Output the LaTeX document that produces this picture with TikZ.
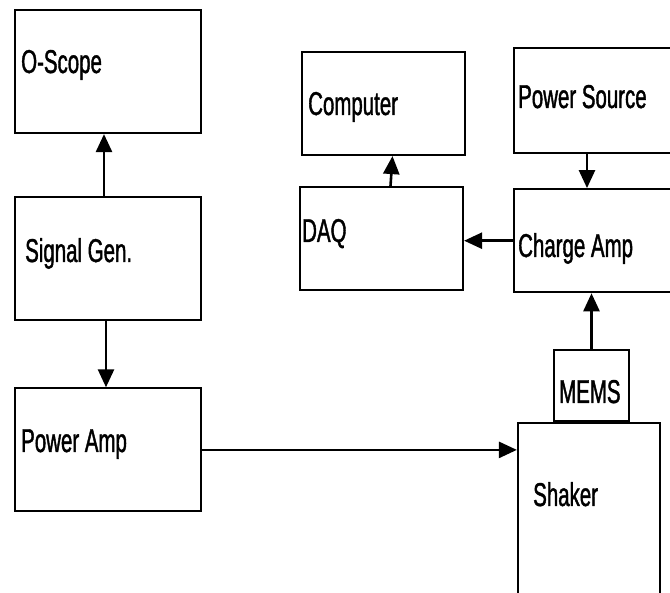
\documentclass[tikz,border=0pt]{standalone}
\usepackage{fontspec}
\setmainfont{Liberation Sans}[FakeStretch=0.62,FakeBold=1.2]
\usetikzlibrary{arrows.meta,positioning}
\tikzset{
  every node/.style={font=\fontsize{33}{36}\selectfont},
  box/.style={draw=black, line width=2.2pt, minimum width=186pt, minimum height=123pt, inner sep=0pt},
  smallbox/.style={box, minimum width=163pt, minimum height=103pt},
  tag/.style={anchor=base west, inner sep=0pt, text=black},
  arrow/.style={-{Triangle[length=18pt,width=16pt]}, line width=2.6pt, draw=black},
}
\begin{document}
\begin{tikzpicture}[x=1pt,y=-1pt]
\useasboundingbox (0,0) rectangle (670,593);
\fill[white] (0,0) rectangle (670,593);
\clip (0,0) rectangle (670,593);
% left column
\node[box] (oscope) at (108,71.5) {};
\node[box, below=62pt of oscope] (siggen) {};
\node[box, below=66pt of siggen] (pamp) {};
% data side
\node[smallbox] (comp) at (383.5,103.5) {};
\node[smallbox, below=30pt of comp, xshift=-2pt] (daq) {};
\node[smallbox, minimum width=170pt, minimum height=105pt] (psrc) at (599,100.5) {};
\node[smallbox, minimum width=170pt, below=34pt of psrc] (camp) {};
\node[box, minimum width=75pt, minimum height=71pt] (mems) at (591.5,385.5) {};
\node[box, minimum width=142pt, minimum height=189pt, below=0pt of mems, xshift=-2.5pt] (shaker) {};
% labels
\node[tag] (oscope-t) at (21,73) {O-Scope};
\node[tag] (siggen-t) at (25,262) {Signal Gen.};
\node[tag] (pamp-t) at (21,452) {Power Amp};
\node[tag] (comp-t) at (308,115) {Computer};
\node[tag] (daq-t) at (302,242) {DAQ};
\node[tag] (psrc-t) at (518,108) {Power Source};
\node[tag] (camp-t) at (518,257) {Charge Amp};
\node[tag] (mems-t) at (559,403) {MEMS};
\node[tag] (shaker-t) at (533,506) {Shaker};
% connections
\draw[arrow] ([xshift=-4pt]siggen.north) -- ([xshift=-4pt]oscope.south);
\draw[arrow] ([xshift=-2pt]siggen.south) -- ([xshift=-2pt]pamp.north);
\draw[arrow] (pamp.east) -- (pamp.east -| shaker.west);
\draw[arrow] (camp.west) -- (camp.west -| daq.east);
\draw[arrow] ([xshift=9pt]daq.north) -- ([xshift=9pt]comp.south);
\draw[arrow] ([xshift=-12pt]psrc.south) -- ([xshift=-12pt]camp.north);
\draw[arrow] (mems.north) -- (mems.north |- camp.south);
\end{tikzpicture}
\end{document}
